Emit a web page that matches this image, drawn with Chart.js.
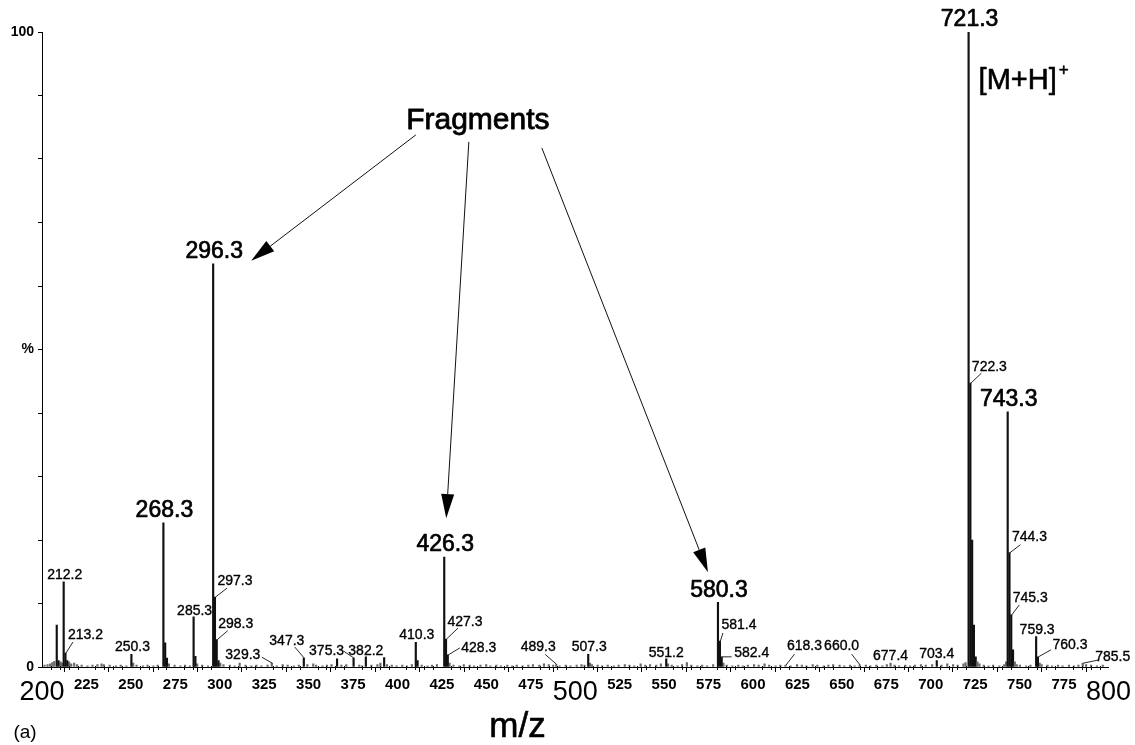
<!DOCTYPE html>
<html>
<head>
<meta charset="utf-8">
<title>ESI mass spectrum</title>
<script src="https://cdn.jsdelivr.net/npm/chart.js@4/dist/chart.umd.min.js"></script>
<style>
  html, body { margin: 0; padding: 0; background: #fff; }
  #wrap { width: 1135px; height: 745px; }
</style>
</head>
<body>
<div id="wrap"><canvas id="ms" width="1135" height="745"></canvas></div>
<script>
// Labelled peaks (m/z and relative intensity, %)
const labelledMz  = [212.2, 213.2, 250.3, 268.3, 285.3, 296.3, 297.3, 298.3, 329.3, 347.3,
                     375.3, 382.2, 410.3, 426.3, 427.3, 428.3, 489.3, 507.3, 551.2, 580.3,
                     581.4, 582.4, 618.3, 660.0, 677.4, 703.4, 721.3, 722.3, 743.3, 744.3,
                     745.3, 759.3, 760.3, 785.5];
const labelledPct = [13.4, 2.2, 2.0, 22.7, 7.9, 63.5, 11.0, 4.3, 0.6, 1.4,
                     1.4, 1.6, 3.9, 17.3, 4.4, 1.9, 0.4, 2.0, 1.3, 10.2,
                     4.1, 1.6, 0.3, 0.3, 0.6, 1.0, 100, 44.7, 40.2, 18.0,
                     8.2, 4.8, 1.6, 0.6];
// Peaks printed in the larger font
const majorPeaks = [268.3, 296.3, 426.3, 580.3, 721.3, 743.3];

// Unlabelled isotope / minor peaks
const minorMz  = [208.3, 209.3, 214.2, 269.3, 270.3, 286.3, 299.3, 366.0, 392.5, 411.3,
                  429.3, 508.3, 552.2, 583.4, 723.3, 724.3, 725.3, 726.3, 746.3, 747.3, 761.3];
const minorPct = [6.6, 1.0, 1.0, 3.8, 1.4, 1.7, 1.0, 1.3, 1.5, 1.0,
                  0.6, 0.6, 0.5, 0.6, 20.0, 6.6, 1.6, 0.8, 2.7, 0.8, 0.6];

// Baseline chemical noise
const noiseMz = [201.4, 203.1, 204.6, 205.8, 206.9, 210.4, 211.3, 215.2, 216.4, 218.1,
  219.7, 222.3, 225.6, 228.4, 231.2, 233.5, 234.8, 238.1, 241.6, 244.3, 247.5, 251.3,
  253.2, 256.8, 259.4, 262.7, 265.1, 271.4, 274.6, 277.9, 280.5, 283.2, 287.3, 290.1,
  293.4, 300.3, 302.1, 305.7, 308.4, 311.2, 314.5, 317.8, 320.6, 323.4, 326.9, 332.1,
  335.4, 338.2, 341.7, 344.5, 349.3, 352.6, 354.2, 357.8, 360.3, 362.9, 368.4, 371.2,
  378.5, 380.1, 385.3, 388.7, 390.4, 394.1, 396.8, 399.5, 402.7, 405.3, 408.1, 413.6,
  416.9, 419.4, 422.2, 431.5, 434.8, 437.3, 440.6, 443.1, 446.7, 449.9, 452.3, 455.6,
  458.2, 461.8, 464.5, 467.1, 470.4, 473.6, 476.2, 479.8, 482.4, 485.1, 487.6, 491.2,
  494.7, 497.3, 500.8, 503.5, 505.2, 509.4, 512.6, 515.1, 518.3, 521.7, 524.4, 527.9,
  530.5, 533.2, 536.8, 539.4, 542.1, 545.6, 548.2, 554.3, 557.6, 560.1, 562.8, 565.3,
  568.7, 571.4, 574.2, 577.6, 585.2, 588.4, 591.7, 594.3, 597.1, 600.6, 603.2, 606.5,
  609.1, 612.7, 615.4, 621.2, 624.8, 627.5, 630.1, 633.6, 636.2, 639.8, 642.4, 645.1,
  648.7, 651.3, 654.6, 657.2, 663.5, 666.1, 669.4, 672.8, 675.3, 679.6, 682.2, 685.7,
  688.4, 691.1, 694.5, 697.2, 700.8, 706.1, 709.3, 712.6, 715.2, 718.4, 719.6, 727.4,
  729.8, 732.5, 735.1, 738.6, 741.3, 742.4, 748.4, 750.2, 753.7, 756.1, 762.4, 765.7,
  768.3, 771.6, 774.2, 777.8, 780.5, 783.1, 787.4, 790.2, 793.5, 796.8];
const noisePct = [0.3, 0.4, 0.5, 0.7, 0.9, 0.8, 0.6, 0.8, 0.5, 0.6,
  0.4, 0.3, 0.2, 0.3, 0.4, 0.5, 0.4, 0.3, 0.2, 0.3, 0.2, 0.6,
  0.3, 0.2, 0.3, 0.2, 0.3, 0.5, 0.3, 0.2, 0.3, 0.2, 0.5, 0.3,
  0.2, 0.6, 0.4, 0.3, 0.2, 0.6, 0.3, 0.2, 0.3, 0.2, 0.3, 0.2,
  0.4, 0.3, 0.2, 0.3, 0.4, 0.5, 0.3, 0.2, 0.3, 0.4, 0.3, 0.4,
  0.3, 0.2, 0.3, 0.4, 0.6, 0.4, 0.3, 0.2, 0.3, 0.2, 0.4, 0.3,
  0.2, 0.3, 0.4, 0.3, 0.2, 0.4, 0.3, 0.2, 0.3, 0.4, 0.2, 0.3,
  0.2, 0.3, 0.2, 0.3, 0.2, 0.3, 0.4, 0.3, 0.5, 0.4, 0.3, 0.2,
  0.3, 0.2, 0.3, 0.4, 0.3, 0.4, 0.3, 0.2, 0.3, 0.2, 0.3, 0.4,
  0.3, 0.2, 0.5, 0.3, 0.4, 0.3, 0.5, 0.3, 0.2, 0.4, 0.7, 0.3,
  0.2, 0.3, 0.2, 0.4, 0.3, 0.2, 0.3, 0.2, 0.3, 0.4, 0.3, 0.5,
  0.3, 0.2, 0.3, 0.2, 0.4, 0.3, 0.2, 0.4, 0.3, 0.2, 0.3, 0.4,
  0.3, 0.2, 0.3, 0.2, 0.3, 0.2, 0.3, 0.2, 0.4, 0.3, 0.2, 0.3,
  0.2, 0.3, 0.4, 0.3, 0.4, 0.3, 0.5, 0.4, 0.3, 0.5, 0.7, 0.5,
  0.3, 0.2, 0.3, 0.2, 0.4, 0.8, 0.4, 0.3, 0.2, 0.3, 0.4, 0.3,
  0.2, 0.3, 0.2, 0.3, 0.2, 0.3, 0.4, 0.3, 0.2, 0.3];

// Axis ticks
const xTickStep = 25;
const xBigTicks = [200, 500, 800];
const yTickLabels = { 0: '0', 50: '%', 100: '100' };

// Annotation texts
const fragmentsText = 'Fragments';
const fragmentTargets = [296.3, 426.3, 580.3];
const molIonText = '[M+H]';
const molIonSup = '+';
const xTitle = 'm/z';
const panelTag = '(a)';

const FONT = "'Liberation Sans', Arial, Helvetica, sans-serif";

const points = [];
noiseMz.forEach((m, i) => points.push({ x: m, y: noisePct[i] }));
minorMz.forEach((m, i) => points.push({ x: m, y: minorPct[i] }));
labelledMz.forEach((m, i) => points.push({ x: m, y: labelledPct[i] }));

// label placement relative to the peak top: [dx, dy, leaderDx, leaderDy] (leader optional)
const labelPlace = {
  '212.2': [1, -7], '213.2': [20, -18, 7.5, -11], '250.3': [1, -7], '285.3': [1, -6],
  '297.3': [20, -16, 12, -9], '298.3': [19, -16, 11, -9], '329.3': [-29, -8, -10, -6],
  '347.3': [-17, -17, -9, -11], '375.3': [-27, -7, -10, -7], '382.2': [0, -6],
  '410.3': [1, -7], '427.3': [19, -17, 12, -11], '428.3': [31, -7, 12, -7],
  '489.3': [-18, -17, -11, -10], '507.3': [1, -7], '551.2': [0, -6],
  '581.4': [19, -16, 3, -8], '582.4': [30, -4, 10, 0], '618.3': [19, -19, 9, -11],
  '660.0': [-18, -19, -8, -11], '677.4': [0, -7], '703.4': [0, -7],
  '722.3': [19, -16, 11, -10], '744.3': [20, -16, 11, -8], '745.3': [19, -17, 8, -10],
  '759.3': [1, -6], '760.3': [32, -12, 13, -7], '785.5': [30, -6, 15, -3]
};

// text with a hairline outline so the glyphs read as heavy as printed type
function heavyText(ctx, txt, x, y, w) {
  ctx.lineWidth = w;
  ctx.strokeStyle = '#000';
  ctx.strokeText(txt, x, y);
  ctx.fillText(txt, x, y);
}

const annotations = {
  id: 'annotations',
  afterDatasetsDraw(chart) {
    const { ctx, scales: { x, y } } = chart;
    ctx.save();
    ctx.fillStyle = '#000';
    ctx.strokeStyle = '#111';
    ctx.textAlign = 'center';
    ctx.textBaseline = 'middle';
    ctx.lineJoin = 'round';

    // minor ticks on the m/z axis
    ctx.lineWidth = 1;
    ctx.beginPath();
    for (let v = 205; v < 800; v += 5) {
      if (v % xTickStep === 0) continue;
      const px = Math.round(x.getPixelForValue(v)) + 0.5;
      ctx.moveTo(px, y.bottom - 1);
      ctx.lineTo(px, y.bottom + 3);
    }
    ctx.stroke();

    // peak labels
    labelledMz.forEach((m, i) => {
      const txt = m.toFixed(1);
      const px = x.getPixelForValue(m);
      const py = y.getPixelForValue(labelledPct[i]);
      if (majorPeaks.includes(m)) {
        ctx.font = '23px ' + FONT;
        heavyText(ctx, txt, px + 1, py - 12, 0.7);
        return;
      }
      const p = labelPlace[txt] || [0, -7];
      ctx.font = '14px ' + FONT;
      heavyText(ctx, txt, px + p[0], py + p[1], 0.35);
      if (p.length > 2) {
        ctx.lineWidth = 0.9;
        ctx.strokeStyle = '#111';
        ctx.beginPath();
        ctx.moveTo(px + p[2], py + p[3]);
        ctx.lineTo(px + 0.5, py);
        ctx.stroke();
      }
    });

    // "Fragments" with arrows to the fragment ions
    const fx = x.getPixelForValue(445.2);
    const fy = y.getPixelForValue(86);
    ctx.font = '30px ' + FONT;
    heavyText(ctx, fragmentsText, fx, fy, 0.8);
    const tails = [[-62, 14], [-9, 21], [64, 27]];
    const tipOffsets = [[38, -3], [2, -39], [-10, -30]];
    fragmentTargets.forEach((m, k) => {
      const idx = labelledMz.indexOf(m);
      const tx = x.getPixelForValue(m) + tipOffsets[k][0];
      const ty = y.getPixelForValue(labelledPct[idx]) + tipOffsets[k][1];
      const sx = fx + tails[k][0];
      const sy = fy + tails[k][1];
      const ang = Math.atan2(ty - sy, tx - sx);
      const headLen = 24, headHalf = 6.5;
      const bx = tx - headLen * Math.cos(ang);
      const by = ty - headLen * Math.sin(ang);
      ctx.lineWidth = 1;
      ctx.strokeStyle = '#111';
      ctx.beginPath();
      ctx.moveTo(sx, sy);
      ctx.lineTo(bx, by);
      ctx.stroke();
      ctx.beginPath();
      ctx.moveTo(tx, ty);
      ctx.lineTo(bx + headHalf * Math.sin(ang), by - headHalf * Math.cos(ang));
      ctx.lineTo(bx - headHalf * Math.sin(ang), by + headHalf * Math.cos(ang));
      ctx.closePath();
      ctx.fill();
    });

    // molecular ion annotation
    const mx = x.getPixelForValue(721.3) + 10;
    const my = y.getPixelForValue(91);
    ctx.textAlign = 'left';
    ctx.textBaseline = 'alphabetic';
    ctx.font = '29px ' + FONT;
    heavyText(ctx, molIonText, mx, my, 0.6);
    const w = ctx.measureText(molIonText).width;
    ctx.font = '17px ' + FONT;
    heavyText(ctx, molIonSup, mx + w + 2, my - 14, 0.5);

    // axis title and panel tag
    ctx.textAlign = 'center';
    ctx.textBaseline = 'middle';
    ctx.font = '35px ' + FONT;
    heavyText(ctx, xTitle, x.getPixelForValue(467.5), 727, 0.6);
    ctx.font = '19px ' + FONT;
    ctx.fillText(panelTag, 25, 733);
    ctx.restore();
  }
};

new Chart(document.getElementById('ms'), {
  type: 'bar',
  data: {
    datasets: [{
      data: points,
      backgroundColor: (c) => (c.raw && c.raw.y >= 1 ? '#111' : '#6a6a6a'),
      borderWidth: 0,
      barThickness: 1.5,
      grouped: false
    }]
  },
  options: {
    responsive: false,
    animation: false,
    devicePixelRatio: 1,
    layout: { padding: { left: 0, right: 26, top: 32, bottom: 0 } },
    plugins: { legend: { display: false }, tooltip: { enabled: false } },
    scales: {
      x: {
        type: 'linear',
        min: 200, max: 800,
        offset: false,
        afterFit(scale) { scale.height = 78; },
        border: { display: true, color: '#000', width: 1 },
        grid: { drawOnChartArea: false, drawTicks: true, tickLength: 5, color: '#000' },
        ticks: {
          stepSize: xTickStep,
          autoSkip: false,
          maxRotation: 0,
          padding: 4,
          color: '#000',
          callback: (v) => String(v),
          font: (c) => xBigTicks.includes(c.tick && c.tick.value)
            ? { family: FONT, size: 27, weight: 'normal' }
            : { family: FONT, size: 15, weight: 'bold' }
        }
      },
      y: {
        min: 0, max: 100,
        afterFit(scale) { scale.width = 42; },
        border: { display: true, color: '#000', width: 1 },
        grid: { drawOnChartArea: false, drawTicks: true, tickLength: 4, color: '#000' },
        ticks: {
          stepSize: 10,
          padding: 4,
          color: '#000',
          font: { family: FONT, size: 14, weight: 'bold' },
          callback: (v) => (yTickLabels[v] !== undefined ? yTickLabels[v] : '')
        }
      }
    }
  },
  plugins: [annotations]
});
</script>
</body>
</html>
